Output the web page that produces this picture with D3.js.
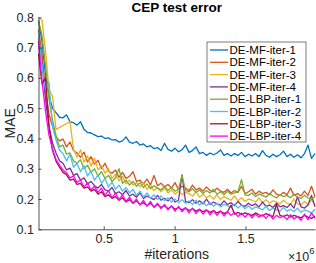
<!DOCTYPE html>
<html><head><meta charset="utf-8">
<script src="https://cdn.jsdelivr.net/npm/d3@7"></script>
<style>
html,body{margin:0;padding:0;background:#fff;}
svg{display:block;font-family:"Liberation Sans",Arial,sans-serif;}
</style></head>
<body><svg id="c" width="316" height="263"></svg>
<script>
const title = "CEP test error";
const xLabel = "#iterations";
const yLabel = "MAE";
const seriesNames = ["DE-MF-iter-1","DE-MF-iter-2","DE-MF-iter-3","DE-MF-iter-4","DE-LBP-iter-1","DE-LBP-iter-2","DE-LBP-iter-3","DE-LBP-iter-4"];
const colors = ["#0072BD","#D95319","#EDB120","#7E2F8E","#77AC30","#4DBEEE","#A2142F","#FF00FF"];
const xTicks = [500000, 1000000, 1500000];
const yTicks = [0.1,0.2,0.3,0.4,0.5,0.6,0.7,0.8];
const iterStart = 40000, iterEnd = 1990000, nPoints = 80;

const mf1 = [0.790,0.720,0.610,0.540,0.500,0.485,0.470,0.468,0.478,0.455,0.452,0.444,0.455,0.430,0.420,0.418,0.412,0.406,0.408,0.400,
0.402,0.395,0.396,0.388,0.392,0.405,0.388,0.384,0.390,0.378,0.382,0.372,0.376,0.366,0.370,0.360,0.384,0.364,0.358,0.368,
0.356,0.362,0.378,0.354,0.360,0.372,0.350,0.354,0.344,0.352,0.346,0.352,0.362,0.344,0.350,0.342,0.350,0.344,0.354,0.340,
0.348,0.342,0.350,0.340,0.360,0.344,0.338,0.348,0.340,0.346,0.358,0.340,0.348,0.338,0.346,0.336,0.350,0.378,0.334,0.350];
const mf2 = [0.760,0.680,0.560,0.480,0.440,0.405,0.392,0.398,0.372,0.388,0.360,0.352,0.338,0.355,0.322,0.340,0.315,0.328,0.300,0.318,
0.292,0.285,0.296,0.272,0.288,0.268,0.275,0.290,0.258,0.262,0.250,0.266,0.246,0.278,0.244,0.252,0.240,0.248,0.236,0.254,
0.232,0.242,0.236,0.228,0.246,0.230,0.236,0.226,0.240,0.228,0.224,0.236,0.226,0.222,0.232,0.220,0.228,0.222,0.242,0.218,
0.224,0.232,0.216,0.226,0.218,0.222,0.214,0.230,0.216,0.212,0.222,0.214,0.236,0.212,0.218,0.210,0.226,0.212,0.242,0.208];
const mf3 = [0.800,0.790,0.690,0.560,0.540,0.430,null,null,null,0.455,0.365,0.338,0.362,0.322,0.342,0.308,0.335,0.296,0.310,0.285,
0.300,0.268,0.282,0.260,0.276,0.250,0.262,0.246,0.254,0.240,0.252,0.232,0.244,0.228,0.238,0.224,0.236,0.220,0.230,0.216,
0.226,0.214,0.222,0.218,0.210,0.224,0.206,0.216,0.204,0.212,0.200,0.214,0.198,0.208,0.202,0.196,0.210,0.194,0.204,0.192,
0.200,0.196,0.190,0.204,0.188,0.198,0.186,0.194,0.190,0.184,0.196,0.186,0.182,0.200,0.184,0.180,0.192,0.182,0.198,0.180];
const mf4 = [0.730,0.650,0.530,0.440,0.385,0.352,0.326,0.318,0.296,0.302,0.278,0.284,0.262,0.270,0.250,0.258,0.244,0.236,0.248,0.230,
0.226,0.238,0.218,0.224,0.214,0.228,0.210,0.216,0.206,0.220,0.202,0.210,0.204,0.198,0.212,0.196,0.202,0.194,0.206,0.190,
0.196,0.280,0.192,0.188,0.198,0.186,0.194,0.184,0.200,0.182,0.190,0.184,0.180,0.194,0.182,0.188,0.178,0.192,0.180,0.176,
0.186,0.178,0.184,0.174,0.190,0.176,0.180,0.172,0.186,0.174,0.178,0.172,0.184,0.170,0.208,0.174,0.170,0.180,0.212,0.174];
const lbp1 = [0.790,0.740,0.640,0.530,0.460,0.410,0.372,0.378,0.348,0.352,0.326,0.318,0.330,0.300,0.312,0.288,0.300,0.276,0.290,0.268,
0.278,0.258,0.270,0.300,0.252,0.262,0.246,0.258,0.242,0.254,0.238,0.250,0.234,0.244,0.236,0.230,0.242,0.228,0.238,0.226,
0.232,0.278,0.228,0.224,0.234,0.222,0.230,0.218,0.228,0.220,0.232,0.216,0.224,0.214,0.226,0.216,0.220,0.224,0.264,0.214,
0.212,0.220,0.208,0.216,0.212,0.206,0.218,0.210,0.204,0.214,0.208,0.212,0.204,0.216,0.206,0.202,0.212,0.204,0.200,0.208];
const lbp2 = [0.740,0.640,0.560,0.585,0.440,0.395,0.362,0.350,0.326,0.348,0.305,0.318,0.290,0.310,0.276,0.292,0.262,0.280,0.252,0.268,
0.240,0.256,0.232,0.246,0.226,0.238,0.220,0.232,0.212,0.226,0.206,0.220,0.202,0.214,0.198,0.210,0.194,0.204,0.190,0.200,
0.188,0.198,0.186,0.194,0.182,0.196,0.180,0.190,0.178,0.188,0.176,0.186,0.174,0.182,0.178,0.172,0.184,0.170,0.180,0.168,
0.178,0.166,0.174,0.170,0.164,0.176,0.162,0.170,0.164,0.160,0.172,0.160,0.166,0.158,0.170,0.156,0.164,0.160,0.154,0.166];
const lbp3 = [0.680,0.580,0.600,0.440,0.360,0.325,0.305,0.288,0.280,0.262,0.266,0.248,0.252,0.236,0.240,0.226,0.232,0.216,0.224,0.208,
0.214,0.202,0.208,0.196,0.204,0.190,0.198,0.186,0.194,0.182,0.188,0.178,0.186,0.174,0.182,0.172,0.178,0.168,0.176,0.166,
0.172,0.164,0.170,0.162,0.168,0.160,0.166,0.158,0.164,0.156,0.162,0.154,0.160,0.152,0.158,0.180,0.150,0.156,0.148,0.154,
0.150,0.146,0.154,0.148,0.144,0.152,0.146,0.142,0.182,0.146,0.142,0.148,0.140,0.146,0.142,0.138,0.146,0.140,0.136,0.144];
const lbp4 = [0.720,0.590,0.490,0.410,0.365,0.330,0.312,0.296,0.286,0.270,0.276,0.255,0.262,0.240,0.252,0.230,0.242,0.222,0.236,0.212,
0.228,0.204,0.220,0.198,0.214,0.192,0.206,0.186,0.200,0.180,0.196,0.176,0.192,0.172,0.186,0.168,0.182,0.164,0.178,0.160,
0.176,0.158,0.172,0.154,0.170,0.152,0.166,0.150,0.164,0.148,0.162,0.146,0.160,0.144,0.158,0.146,0.156,0.142,0.154,0.140,
0.152,0.138,0.150,0.140,0.148,0.136,0.150,0.134,0.146,0.138,0.144,0.132,0.148,0.134,0.142,0.130,0.150,0.132,0.154,0.136];
const seriesValues = [mf1, mf2, mf3, mf4, lbp1, lbp2, lbp3, lbp4];

const iters = d3.range(nPoints).map(i => iterStart + i * (iterEnd - iterStart) / (nPoints - 1));

const svg = d3.select("#c");
const L = 38.5, R = 315, T = 17.3, B = 229.3;
const x = d3.scaleLinear().domain([iterStart, iterEnd]).range([L, R]);
const y = d3.scaleLinear().domain([0.1, 0.8]).range([B, T]);
const axisColor = "#262626";

// lines
const line = d3.line().x(d => x(d[0])).y(d => y(d[1]));
seriesValues.forEach((vals, k) => {
  const pts = vals.map((v, i) => [iters[i], v]).filter(d => d[1] !== null);
  svg.append("path").attr("d", line(pts)).attr("fill", "none")
    .attr("stroke", colors[k]).attr("stroke-width", 1.3).attr("stroke-linejoin", "round");
});

// axes
const xAxis = d3.axisBottom(x).tickValues(xTicks).tickSizeInner(-3).tickSizeOuter(0).tickPadding(5)
  .tickFormat(d => String(d / 1e6));
const gx = svg.append("g").attr("transform", `translate(0,${B})`).call(xAxis);
const yAxis = d3.axisLeft(y).tickValues(yTicks).tickSizeInner(-3).tickSizeOuter(0).tickPadding(4.5)
  .tickFormat(d3.format(".1f"));
const gy = svg.append("g").attr("transform", `translate(${L},0)`).call(yAxis);
[gx, gy].forEach(g => {
  g.select(".domain").attr("stroke", axisColor).attr("stroke-width", 0.8);
  g.selectAll(".tick line").attr("stroke", axisColor).attr("stroke-width", 0.8);
  g.selectAll(".tick text").attr("fill", axisColor).style("font-size", "12.5px")
    .style("font-family", '"Liberation Sans",Arial,sans-serif');
});

// title and labels
svg.append("text").attr("x", (L + R) / 2).attr("y", 12).attr("text-anchor", "middle")
  .style("font-size", "13.5px").style("font-weight", "bold").attr("fill", "#000").text(title);
svg.append("text").attr("x", (L + R) / 2).attr("y", 259).attr("text-anchor", "middle")
  .style("font-size", "14px").attr("fill", axisColor).text(xLabel);
svg.append("text").attr("transform", `translate(15,${(T + B) / 2}) rotate(-90)`).attr("text-anchor", "middle")
  .style("font-size", "14px").attr("fill", axisColor).text(yLabel);
const mult = svg.append("text").attr("x", 288).attr("y", 261).attr("fill", axisColor).style("font-size", "12.5px");
mult.append("tspan").text("\u00d710");
mult.append("tspan").attr("dy", -7).style("font-size", "9.5px").text("6");

// legend
const lg = svg.append("g");
lg.append("rect").attr("x", 207).attr("y", 42).attr("width", 99).attr("height", 100)
  .attr("fill", "#fff").attr("stroke", axisColor).attr("stroke-width", 0.6);
seriesNames.forEach((name, k) => {
  const cy = 50 + k * 12.3;
  lg.append("line").attr("x1", 210).attr("x2", 228).attr("y1", cy).attr("y2", cy)
    .attr("stroke", colors[k]).attr("stroke-width", 1.3);
  lg.append("text").attr("x", 229.5).attr("y", cy).attr("dy", "0.36em")
    .style("font-size", "11.5px").attr("fill", "#000").text(name);
});
</script></body></html>
